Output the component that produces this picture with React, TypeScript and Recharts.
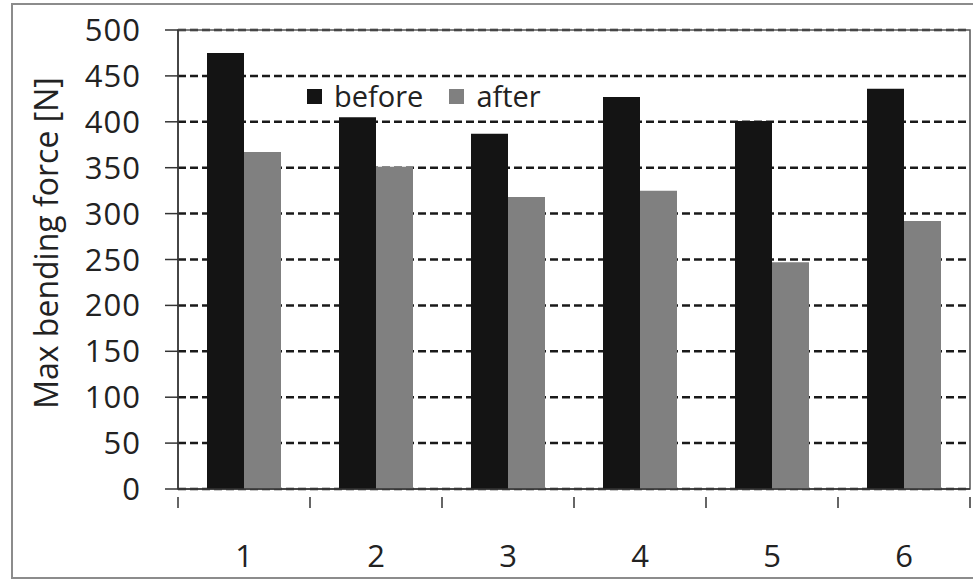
import {
  BarChart,
  Bar,
  XAxis,
  YAxis,
  CartesianGrid,
  Legend,
  ReferenceArea,
} from "recharts";

const categories = ["1", "2", "3", "4", "5", "6"];
const beforeValues = [475, 405, 387, 427, 401, 436];
const afterValues = [367, 351, 318, 325, 247, 292];
const yTicks = [0, 50, 100, 150, 200, 250, 300, 350, 400, 450, 500];

const data = categories.map((name, i) => ({
  name,
  before: beforeValues[i],
  after: afterValues[i],
}));

const W = 973;
const H = 581;
const PLOT_LEFT = 178;
const PLOT_RIGHT = 970;
const HALF_BAND = (PLOT_RIGHT - PLOT_LEFT) / categories.length / 2;

const FONT = "'Open Sans', sans-serif";
const TEXT = "#222";
const BLACK = "#141414";
const GRAY = "#808080";

function XTick(props: any) {
  const { x, y, payload, index } = props;
  const isLast = index === categories.length - 1;
  return (
    <g>
      <line x1={x - HALF_BAND} y1={y} x2={x - HALF_BAND} y2={y + 11} stroke="#333" strokeWidth={1.5} />
      {isLast && (
        <line x1={x + HALF_BAND} y1={y} x2={x + HALF_BAND} y2={y + 11} stroke="#333" strokeWidth={1.5} />
      )}
      <text x={x} y={y + 70} textAnchor="middle" fontFamily={FONT} fontSize={31} fill={TEXT}>
        {payload.value}
      </text>
    </g>
  );
}

function LegendBox() {
  const item = (color: string, label: string, gap: number) => (
    <div style={{ display: "flex", alignItems: "center", marginRight: gap }}>
      <div style={{ width: 15, height: 15, background: color, marginRight: 12 }} />
      <span>{label}</span>
    </div>
  );
  return (
    <div
      style={{
        display: "flex",
        fontFamily: FONT,
        fontSize: 29,
        color: TEXT,
        lineHeight: "30px",
      }}
    >
      {item(BLACK, "before", 26)}
      {item(GRAY, "after", 0)}
    </div>
  );
}

export default function App() {
  return (
    <div
      style={{
        position: "absolute",
        left: 0,
        top: 0,
        width: W,
        height: H,
        background: "#fff",
        overflow: "hidden",
      }}
    >
      <div
        style={{
          position: "absolute",
          left: 11,
          top: 3,
          width: W + 20,
          height: 572,
          border: "2px solid #8c8c8c",
        }}
      />
      <div style={{ position: "absolute", left: 0, top: 0 }}>
        <BarChart
          width={W}
          height={H}
          data={data}
          margin={{ top: 30, right: W - PLOT_RIGHT, bottom: 0, left: 8 }}
          barGap={0}
          barSize={37}
        >
          <CartesianGrid
            vertical={false}
            stroke="#1a1a1a"
            strokeWidth={2.5}
            strokeDasharray="8 4"
          />
          <ReferenceArea y1={0} y2={500} fill="none" stroke="#555" strokeWidth={1.5} />
          <XAxis
            dataKey="name"
            axisLine={{ stroke: "#333", strokeWidth: 1.5 }}
            tickLine={false}
            tick={<XTick />}
            interval={0}
            height={92}
          />
          <YAxis
            domain={[0, 500]}
            ticks={yTicks}
            interval={0}
            width={170}
            axisLine={{ stroke: "#333", strokeWidth: 1.5 }}
            tickLine={{ stroke: "#333", strokeWidth: 1.5 }}
            tickSize={13}
            tickMargin={24}
            tick={{ fontFamily: FONT, fontSize: 31, fill: TEXT, letterSpacing: 1 }}
            label={{
              content: () => (
                <text
                  x={45}
                  y={243}
                  transform="rotate(-90 45 243)"
                  textAnchor="middle"
                  dominantBaseline="central"
                  fontFamily={FONT}
                  fontSize={32}
                  fill={TEXT}
                >
                  Max bending force [N]
                </text>
              ),
            }}
          />
          <Legend
            layout="horizontal"
            verticalAlign="middle"
            align="center"
            content={<LegendBox />}
            wrapperStyle={{ position: "absolute", left: 307, top: 81, width: "auto" }}
          />
          <Bar dataKey="before" fill={BLACK} isAnimationActive={false} />
          <Bar dataKey="after" fill={GRAY} isAnimationActive={false} />
        </BarChart>
      </div>
    </div>
  );
}
